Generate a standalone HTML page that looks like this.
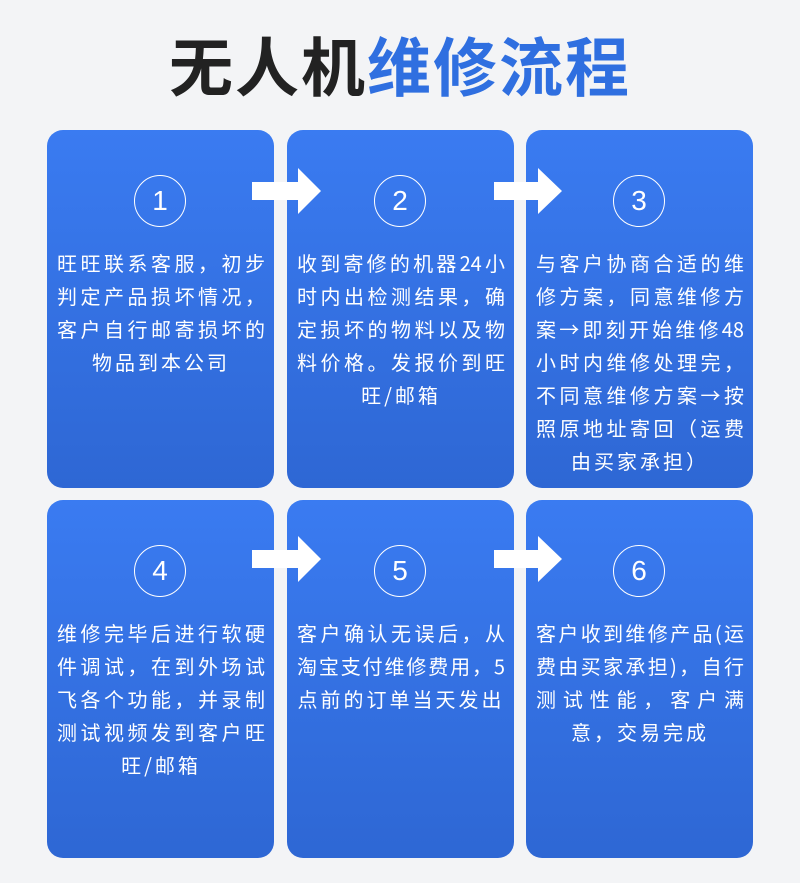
<!DOCTYPE html>
<html><head><meta charset="utf-8"><style>
body{margin:0;width:800px;height:883px;background:#f3f4f6;position:relative;overflow:hidden;font-family:"Liberation Sans","Noto Sans CJK SC",sans-serif}
.t{position:absolute;top:22px;left:0;width:800px;text-align:center;font-size:64px;font-weight:bold;color:#222;letter-spacing:2px;line-height:84px;font-family:"Noto Sans CJK SC",sans-serif}
.t span{color:#2f6fe0}
.c{position:absolute;width:227px;height:358px;border-radius:16px;background:linear-gradient(#3a7bf1,#2e67d4)}
.n{position:absolute;left:87px;width:50px;height:50px;border:1.5px solid #fff;border-radius:50%;color:#fff;font-size:28px;line-height:50px;text-align:center;top:45px}
.tx{position:absolute;left:10px;width:208px;top:116px;color:#fff;font-size:20px;line-height:33px;font-family:"Noto Sans CJK SC",sans-serif}
.tx div{text-align:justify;text-align-last:justify;white-space:nowrap}
.tx div.l{text-align:center;text-align-last:center;letter-spacing:3px}
.a{position:absolute}
</style></head><body>
<div class="t">无人机<span>维修流程</span></div>

<div class="c" style="left:47px;top:130px"><div class="n">1</div><div class="tx"><div>旺旺联系客服，初步</div><div>判定产品损坏情况，</div><div>客户自行邮寄损坏的</div><div class="l">物品到本公司</div></div></div>
<div class="c" style="left:287px;top:130px"><div class="n">2</div><div class="tx"><div>收到寄修的机器24小</div><div>时内出检测结果，确</div><div>定损坏的物料以及物</div><div>料价格。发报价到旺</div><div class="l">旺/邮箱</div></div></div>
<div class="c" style="left:526px;top:130px"><div class="n">3</div><div class="tx"><div>与客户协商合适的维</div><div>修方案，同意维修方</div><div>案→即刻开始维修48</div><div>小时内维修处理完，</div><div>不同意维修方案→按</div><div>照原地址寄回（运费</div><div class="l">由买家承担）</div></div></div>

<div class="c" style="left:47px;top:500px"><div class="n">4</div><div class="tx"><div>维修完毕后进行软硬</div><div>件调试，在到外场试</div><div>飞各个功能，并录制</div><div>测试视频发到客户旺</div><div class="l">旺/邮箱</div></div></div>
<div class="c" style="left:287px;top:500px"><div class="n">5</div><div class="tx"><div>客户确认无误后，从</div><div>淘宝支付维修费用，5</div><div class="l">点前的订单当天发出</div></div></div>
<div class="c" style="left:526px;top:500px"><div class="n">6</div><div class="tx"><div>客户收到维修产品(运</div><div>费由买家承担)，自行</div><div>测试性能，客户满</div><div class="l">意，交易完成</div></div></div>

<svg class="a" style="left:0;top:0" width="800" height="883">
<g fill="#fff">
<polygon points="252,182 298,182 298,168 321,191 298,214 298,200 252,200"/>
<polygon points="494,182 538,182 538,168 562,191 538,214 538,200 494,200"/>
<polygon points="252,550 298,550 298,536 321,559 298,582 298,568 252,568"/>
<polygon points="494,550 538,550 538,536 562,559 538,582 538,568 494,568"/>
</g></svg>
</body></html>
